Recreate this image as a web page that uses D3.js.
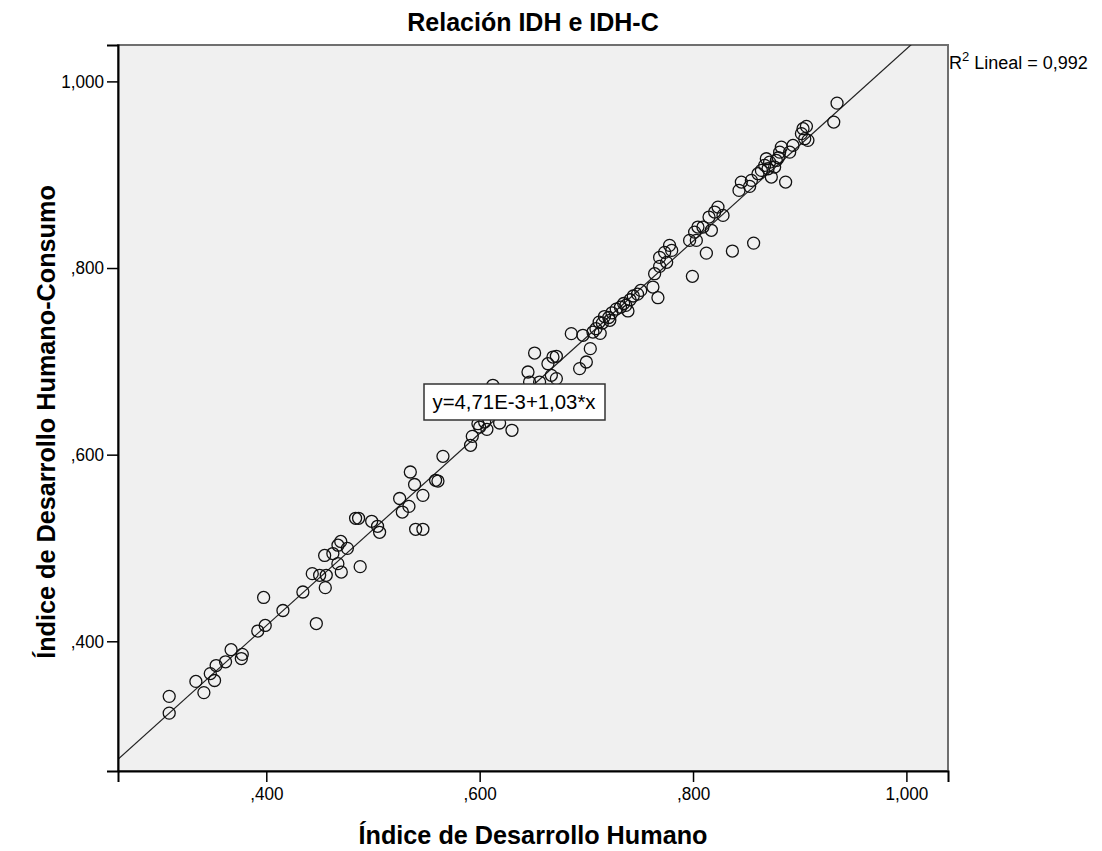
<!DOCTYPE html>
<html>
<head>
<meta charset="utf-8">
<script src="https://cdn.jsdelivr.net/npm/d3@7"></script>
<style>
  body { margin: 0; background: #fff; }
  text { font-family: "Liberation Sans", Arial, sans-serif; }
</style>
</head>
<body>
<svg id="chart" width="1102" height="851"></svg>
<script>
// IDH vs IDH-C scatter, SPSS style

// indice de desarrollo humano (x)
var idh = [
  0.309, 0.309, 0.334, 0.3415, 0.3515, 0.3475, 0.353, 0.3618, 0.367, 0.3766,
  0.3775, 0.392, 0.399, 0.3975, 0.4156, 0.4343, 0.4469, 0.4431, 0.450, 0.4553,
  0.4562, 0.4547, 0.4624, 0.4703, 0.4671, 0.488, 0.4672, 0.4698, 0.476, 0.4837,
  0.4865, 0.4988, 0.5043, 0.5062,
  0.540, 0.5468, 0.5275, 0.5337, 0.525, 0.5468, 0.539, 0.535, 0.5587, 0.5609,
  0.5656, 0.5915, 0.5931, 0.600, 0.6068, 0.6187, 0.6303, 0.5984, 0.6047, 0.6124,
  0.6453, 0.6468, 0.6562, 0.664, 0.6687, 0.6719, 0.6515, 0.6672, 0.6719, 0.6937,
  0.700, 0.7037, 0.6859, 0.6968, 0.7062,
  0.709, 0.712, 0.715, 0.717, 0.721, 0.724, 0.728, 0.732, 0.735, 0.737,
  0.741, 0.744, 0.748, 0.751, 0.713, 0.722, 0.739,
  0.778, 0.7671, 0.7624, 0.764, 0.7687, 0.7734, 0.780, 0.7687, 0.7753,
  0.935, 0.9319, 0.9031, 0.9063, 0.9047, 0.9077, 0.9016, 0.8937, 0.8906, 0.8828,
  0.8812, 0.8781, 0.8718, 0.8765, 0.8703, 0.8672, 0.8641, 0.8734, 0.8609, 0.8868,
  0.8547, 0.8531, 0.8453, 0.8431, 0.8234, 0.8203, 0.8281, 0.815, 0.8172, 0.8046,
  0.8015, 0.8093, 0.7968, 0.8031, 0.8125, 0.8369, 0.8568, 0.7994, 0.8687, 0.880
];

// indice de desarrollo humano-consumo (y)
var idhc = [
  0.323, 0.341, 0.357, 0.345, 0.358, 0.3654, 0.374, 0.378, 0.391, 0.3815,
  0.386, 0.411, 0.417, 0.447, 0.433, 0.4528, 0.419, 0.4725, 0.4707, 0.4575,
  0.4707, 0.492, 0.494, 0.4742, 0.4832, 0.480, 0.503, 0.507, 0.4996, 0.5318,
  0.5318, 0.5286, 0.5232, 0.5168,
  0.520, 0.520, 0.5385, 0.5446, 0.553, 0.5564, 0.568, 0.5814, 0.5725, 0.5717,
  0.5982, 0.610, 0.6196, 0.6296, 0.6271, 0.6339, 0.6261, 0.6332, 0.635, 0.6743,
  0.6886, 0.6778, 0.6778, 0.6975, 0.7046, 0.7054, 0.7089, 0.685, 0.6815, 0.6922,
  0.6993, 0.7136, 0.7297, 0.7279, 0.7314,
  0.735, 0.742, 0.741, 0.748, 0.747, 0.752, 0.756, 0.758, 0.762, 0.760,
  0.766, 0.770, 0.772, 0.776, 0.730, 0.744, 0.754,
  0.8243, 0.7682, 0.7796, 0.7939, 0.8114, 0.8168, 0.8189, 0.8018, 0.8061,
  0.9767, 0.9564, 0.9493, 0.9518, 0.9386, 0.9368, 0.944, 0.9314, 0.9242, 0.9296,
  0.9242, 0.9153, 0.9135, 0.9082, 0.9064, 0.910, 0.9046, 0.8975, 0.9011, 0.8921,
  0.8939, 0.8875, 0.8921, 0.8832, 0.8653, 0.860, 0.8564, 0.8546, 0.8404, 0.8439,
  0.8385, 0.8439, 0.8296, 0.8296, 0.816, 0.8182, 0.8267, 0.7911, 0.9171, 0.9182
];

var xTicks = [0.4, 0.6, 0.8, 1.0];
var yTicks = [0.4, 0.6, 0.8, 1.0];
var fit = { intercept: 0.00471, slope: 1.03, r2: 0.992 };

var svg = d3.select("#chart");
// frame edges (not "top": that one is taken by window.top)
var pLeft = 118, pRight = 948, pTop = 45, pBottom = 771;

var x = d3.scaleLinear().domain([0.261, 1.039]).range([pLeft, pRight]);
var y = d3.scaleLinear().domain([0.261, 1.039]).range([pBottom, pTop]);

// spss likes ",400" and "1,000"
function fmt(v) {
  var s = d3.format(".3f")(v).replace(".", ",");
  if (s.indexOf("0,") === 0) s = s.slice(1);
  return s;
}

// no narrow font installed, so squeeze the glyphs instead
function narrow(sel, k) {
  sel.each(function() {
    var w = this.getComputedTextLength();
    d3.select(this).attr("textLength", w * k).attr("lengthAdjust", "spacingAndGlyphs");
  });
}

svg.append("rect").attr("width", 1102).attr("height", 851).attr("fill", "#fff");

svg.append("rect")
  .attr("x", pLeft).attr("y", pTop)
  .attr("width", pRight - pLeft).attr("height", pBottom - pTop)
  .attr("fill", "#f0f0f0")
  .attr("stroke", "#6f6f6f")
  .attr("stroke-width", 2);

svg.append("clipPath").attr("id", "plotclip")
  .append("rect").attr("x", pLeft).attr("y", pTop)
  .attr("width", pRight - pLeft).attr("height", pBottom - pTop);

var plot = svg.append("g").attr("clip-path", "url(#plotclip)");

// fit line across the whole domain, clipped to frame
var xs = x.domain();
plot.append("line")
  .attr("x1", x(xs[0])).attr("y1", y(fit.intercept + fit.slope * xs[0]))
  .attr("x2", x(xs[1])).attr("y2", y(fit.intercept + fit.slope * xs[1]))
  .attr("stroke", "#222").attr("stroke-width", 1.2);

plot.selectAll("circle.pt")
  .data(d3.range(idh.length))
  .enter().append("circle")
  .attr("class", "pt")
  .attr("cx", function(i) { return x(idh[i]); })
  .attr("cy", function(i) { return y(idhc[i]); })
  .attr("r", 6)
  .attr("fill", "none")
  .attr("stroke", "#111")
  .attr("stroke-width", 1.3);

// axes
var xAxis = d3.axisBottom(x).tickValues(xTicks).tickFormat(fmt).tickSize(11).tickPadding(5);
var yAxis = d3.axisLeft(y).tickValues(yTicks).tickFormat(fmt).tickSize(11).tickPadding(3);

var gx = svg.append("g").attr("transform", "translate(0," + pBottom + ")").call(xAxis);
var gy = svg.append("g").attr("transform", "translate(" + pLeft + ",0)").call(yAxis);
[gx, gy].forEach(function(g) {
  g.select(".domain").attr("stroke", "#000").attr("stroke-width", 2);
  g.selectAll(".tick line").attr("stroke", "#000").attr("stroke-width", 1.5);
  g.selectAll(".tick text").attr("font-size", 18).attr("fill", "#000")
    .style("font-family", '"Liberation Sans", Arial, sans-serif')
    .call(narrow, 0.95);
});

// equation label
var lx = 514, ly = 402;
svg.append("rect")
  .attr("x", lx - 90).attr("y", ly - 18)
  .attr("width", 181).attr("height", 36)
  .attr("fill", "#fff").attr("stroke", "#333").attr("stroke-width", 1.5);
svg.append("text")
  .attr("x", lx).attr("y", ly + 7)
  .attr("text-anchor", "middle")
  .attr("font-size", 21)
  .text("y=" + "4,71E-3" + "+" + "1,03" + "*x")
  .call(narrow, 0.97);

// r squared
var r2 = svg.append("text").attr("x", 949).attr("y", 69).attr("font-size", 18);
r2.append("tspan").text("R");
r2.append("tspan").attr("dy", -8).attr("font-size", 13).text("2");
r2.append("tspan").attr("dy", 8).text(" Lineal = " + String(fit.r2).replace(".", ","));

// titles
svg.append("text")
  .attr("x", 533).attr("y", 31)
  .attr("text-anchor", "middle")
  .attr("font-size", 25).attr("font-weight", "bold")
  .text("Relación IDH e IDH-C");

svg.append("text")
  .attr("x", 533).attr("y", 844)
  .attr("text-anchor", "middle")
  .attr("font-size", 26).attr("font-weight", "bold")
  .text("Índice de Desarrollo Humano")
  .call(narrow, 0.97);

svg.append("text")
  .attr("transform", "translate(55,422) rotate(-90)")
  .attr("text-anchor", "middle")
  .attr("font-size", 26).attr("font-weight", "bold")
  .text("Índice de Desarrollo Humano-Consumo")
  .call(narrow, 0.97);
</script>
</body>
</html>
